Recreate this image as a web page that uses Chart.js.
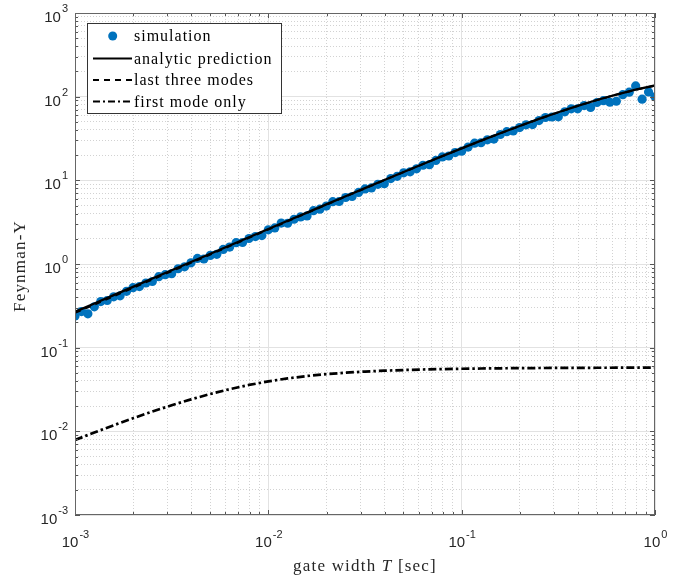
<!DOCTYPE html>
<html><head><meta charset="utf-8">
<script src="https://cdn.jsdelivr.net/npm/chart.js@4.4.1/dist/chart.umd.min.js"></script>
<style>html,body{margin:0;padding:0;background:#fff;}#wrap{width:684px;height:577px;}</style>
</head><body><div id="wrap"><canvas id="c" width="684" height="577"></canvas></div>
<script>
// ---- data ----
const simT = [0.001,0.00108,0.001166,0.001259,0.001359,0.001468,0.001585,0.001711,0.001848,0.001995,0.002154,0.002326,0.002512,0.002712,0.002929,0.003162,0.003415,0.003687,0.003981,0.004299,0.004642,0.005012,0.005412,0.005843,0.00631,0.006813,0.007356,0.007943,0.008577,0.009261,
0.01,0.0108,0.01166,0.01259,0.01359,0.01468,0.01585,0.01711,0.01848,0.01995,0.02154,0.02326,0.02512,0.02712,0.02929,0.03162,0.03415,0.03687,0.03981,0.04299,0.04642,0.05012,0.05412,0.05843,0.0631,0.06813,0.07356,0.07943,0.08577,0.09261,
0.1,0.108,0.1166,0.1259,0.1359,0.1468,0.1585,0.1711,0.1848,0.1995,0.2154,0.2326,0.2512,0.2712,0.2929,0.3162,0.3415,0.3687,0.3981,0.4299,0.4642,0.5012,0.5412,0.5843,0.631,0.6813,0.7356,0.7943,0.8577,0.9261,1.0];
const simY = [0.239,0.270,0.254,0.308,0.356,0.366,0.405,0.417,0.472,0.521,0.537,0.593,0.618,0.706,0.745,0.767,0.877,0.925,1.033,1.167,1.148,1.268,1.306,1.493,1.592,1.799,1.807,2.018,2.128,2.188,
2.559,2.698,3.083,3.069,3.428,3.648,3.758,4.335,4.519,4.920,5.559,5.585,6.237,6.412,7.161,7.889,8.110,8.954,9.099,10.50,11.17,12.30,12.65,13.74,15.14,15.38,17.30,19.05,19.54,21.48,
22.28,25.00,27.80,28.12,30.48,31.12,35.32,38.19,38.99,42.66,46.03,46.34,51.76,56.36,57.15,57.41,65.92,71.61,71.61,78.16,74.47,85.11,89.5,85.7,88.1,105.7,113.2,134.3,93.3,113.8,99.5];
const lineT = [0.001,0.001259,0.001585,0.001995,0.002512,0.003162,0.003981,0.005012,0.00631,0.007943,0.01,0.01259,0.01585,0.01995,0.02512,0.03162,0.03981,0.05012,0.0631,0.07943,0.1,0.1259,0.1585,0.1995,0.2512,0.3162,0.3981,0.5012,0.631,0.7943,1.0];
const analytic = [0.268,0.337,0.424,0.533,0.670,0.841,1.057,1.327,1.666,2.089,2.621,3.285,4.117,5.157,6.456,8.075,10.09,12.59,15.68,19.48,24.14,29.79,36.56,44.66,54.16,65.16,77.56,91.26,105.9,121.0,136.0];
const lastThree = [0.260,0.327,0.412,0.518,0.652,0.820,1.032,1.298,1.633,2.052,2.580,3.241,4.070,5.107,6.404,8.021,10.04,12.54,15.63,19.43,24.08,29.73,36.5,44.6,54.1,65.1,77.5,91.2,105.8,120.9,135.9];
const firstMode = [0.00787,0.00969,0.01182,0.01434,0.01723,0.0205,0.0241,0.02796,0.03192,0.03585,0.03957,0.04292,0.04583,0.04825,0.05022,0.0518,0.05306,0.05405,0.05484,0.05547,0.05597,0.05637,0.05668,0.05694,0.05713,0.05729,0.05742,0.05751,0.05759,0.05766,0.05771];
const xTickLabels = ['10^-3','10^-2','10^-1','10^0'];
const yTickLabels = ['10^-3','10^-2','10^-1','10^0','10^1','10^2','10^3'];
const legendLabels = ['simulation','analytic prediction','last three modes','first mode only'];
const xTitleParts = ['gate width ','T',' [sec]'];
const yTitle = 'Feynman-Y';

const BLUE = '#0072BD';
function decadesOf(labels){ return labels.map(l => Math.pow(10, parseFloat(l.split('^')[1]))); }
function allTicks(labels){
  const d = decadesOf(labels); const out = [];
  for (let i=0;i<d.length;i++){ out.push(d[i]); if (i<d.length-1) for (let m=2;m<=9;m++) out.push(d[i]*m); }
  return out;
}
const xTicksAll = allTicks(xTickLabels), yTicksAll = allTicks(yTickLabels);
function isMajor(v){ const l=Math.log10(v); return Math.abs(l-Math.round(l))<1e-6; }
const pts = (xs,ys)=>xs.map((x,i)=>({x, y: ys[i]}));

const gridOpts = {
  display:true, drawTicks:false,
  color: c => (c.tick && isMajor(c.tick.value)) ? '#e2e2e2' : '#d2d2d2',
  lineWidth: 1
};
const borderOpts = { display:false, dash: c => (c.tick && isMajor(c.tick.value)) ? [] : [1,2] };

const deco = {
  id:'deco',
  afterDraw(chart){
    const {ctx, chartArea:a, scales:{x, y}} = chart;
    ctx.save();
    ctx.strokeStyle = '#555'; ctx.lineWidth = 1; ctx.beginPath();
    xTicksAll.forEach(v=>{ const p=Math.round(x.getPixelForValue(v))+0.5, L=isMajor(v)?5:3;
      ctx.moveTo(p,a.bottom); ctx.lineTo(p,a.bottom-L); ctx.moveTo(p,a.top); ctx.lineTo(p,a.top+L); });
    yTicksAll.forEach(v=>{ const p=Math.round(y.getPixelForValue(v))+0.5, L=isMajor(v)?5:3;
      ctx.moveTo(a.left,p); ctx.lineTo(a.left+L,p); ctx.moveTo(a.right,p); ctx.lineTo(a.right-L,p); });
    ctx.stroke();
    ctx.strokeStyle = '#666';
    ctx.strokeRect(Math.round(a.left)+0.5, Math.round(a.top)+0.5, Math.round(a.right-a.left)-1, Math.round(a.bottom-a.top)-1);
    ctx.fillStyle = '#262626'; ctx.textBaseline = 'alphabetic';
    const big = '15px "Liberation Sans"', small = '11px "Liberation Sans"';
    xTickLabels.forEach(l=>{
      const [b,e] = l.split('^'); const v = Math.pow(10, parseFloat(e));
      const p = x.getPixelForValue(v);
      ctx.font = big; const wb = ctx.measureText(b).width;
      ctx.font = small; const we = ctx.measureText(e).width;
      const s = p - (wb+we)/2;
      ctx.textAlign='left';
      ctx.font = big; ctx.fillText(b, s, 547);
      ctx.font = small; ctx.fillText(e, s+wb+1, 538);
    });
    yTickLabels.forEach(l=>{
      const [b,e] = l.split('^'); const v = Math.pow(10, parseFloat(e));
      const p = y.getPixelForValue(v);
      ctx.font = small; const we = ctx.measureText(e).width;
      ctx.textAlign='right';
      ctx.fillText(e, a.left-7, p-1);
      ctx.font = big; ctx.fillText(b, a.left-7-we-1, p+9);
    });
    ctx.fillStyle = '#262626';
    ctx.letterSpacing = '1.2px';
    const fN = '17px "Liberation Serif"', fI = 'italic 17px "Liberation Serif"';
    const fonts = [fN,fI,fN];
    let widths = xTitleParts.map((t,i)=>{ ctx.font=fonts[i]; return ctx.measureText(t).width; });
    let tot = widths.reduce((s,w)=>s+w,0);
    let sx = (a.left+a.right)/2 - tot/2;
    ctx.textAlign='left';
    xTitleParts.forEach((t,i)=>{ ctx.font=fonts[i]; ctx.fillText(t, sx, 571); sx += widths[i]; });
    ctx.save(); ctx.translate(25, 266); ctx.rotate(-Math.PI/2);
    ctx.font = fN; ctx.textAlign='center'; ctx.fillText(yTitle, 0, 0); ctx.restore();
    ctx.letterSpacing = '0px';
    ctx.fillStyle = '#fff'; ctx.fillRect(87,23,195,91);
    ctx.strokeStyle = '#333'; ctx.lineWidth = 1; ctx.strokeRect(87.5,23.5,194,90);
    const rows = [36, 58.5, 80, 101.5];
    ctx.fillStyle = BLUE; ctx.beginPath(); ctx.arc(112.7, rows[0], 4.5, 0, Math.PI*2); ctx.fill();
    ctx.strokeStyle = '#000'; ctx.lineWidth = 2.2;
    const dashes = [null, [], [6,5], [7,3,2,3]];
    for (let i=1;i<4;i++){ ctx.setLineDash(dashes[i]); ctx.beginPath(); ctx.moveTo(93, rows[i]); ctx.lineTo(132, rows[i]); ctx.stroke(); }
    ctx.setLineDash([]);
    ctx.fillStyle = '#000'; ctx.font = '16px "Liberation Serif"'; ctx.letterSpacing = '1px'; ctx.textAlign='left';
    legendLabels.forEach((t,i)=> ctx.fillText(t, 134, rows[i]+5));
    ctx.restore();
  }
};

new Chart(document.getElementById('c'), {
  type: 'scatter',
  data: { datasets: [
    { label: legendLabels[1], data: pts(lineT, analytic), showLine:true, borderColor:'#000', borderWidth:2.3, pointRadius:0, order:0 },
    { label: legendLabels[2], data: pts(lineT, lastThree), showLine:true, borderColor:'#000', borderWidth:2, borderDash:[6,5], pointRadius:0, order:1 },
    { label: legendLabels[3], data: pts(lineT, firstMode), showLine:true, borderColor:'#000', borderWidth:2.7, borderDash:[8,3,2.5,3], pointRadius:0, order:2 },
    { label: legendLabels[0], data: pts(simT, simY), showLine:false, pointStyle:'circle', pointRadius:4.6, backgroundColor:BLUE, borderColor:BLUE, borderWidth:0, order:3 }
  ]},
  options: {
    responsive:false, animation:false, devicePixelRatio:1,
    layout:{ padding:{ top:13, right:29, left:0, bottom:0 } },
    plugins:{ legend:{display:false}, tooltip:{enabled:false} },
    scales:{
      x:{ type:'logarithmic', min:0.001, max:1, grid:gridOpts, border:borderOpts,
          ticks:{display:false}, afterBuildTicks: s=>{ s.ticks = xTicksAll.map(v=>({value:v})); },
          afterFit: s=>{ s.height = 62; } },
      y:{ type:'logarithmic', min:0.001, max:1000, grid:gridOpts, border:borderOpts,
          ticks:{display:false}, afterBuildTicks: s=>{ s.ticks = yTicksAll.map(v=>({value:v})); },
          afterFit: s=>{ s.width = 75; } }
    }
  },
  plugins:[deco]
});
</script></body></html>
